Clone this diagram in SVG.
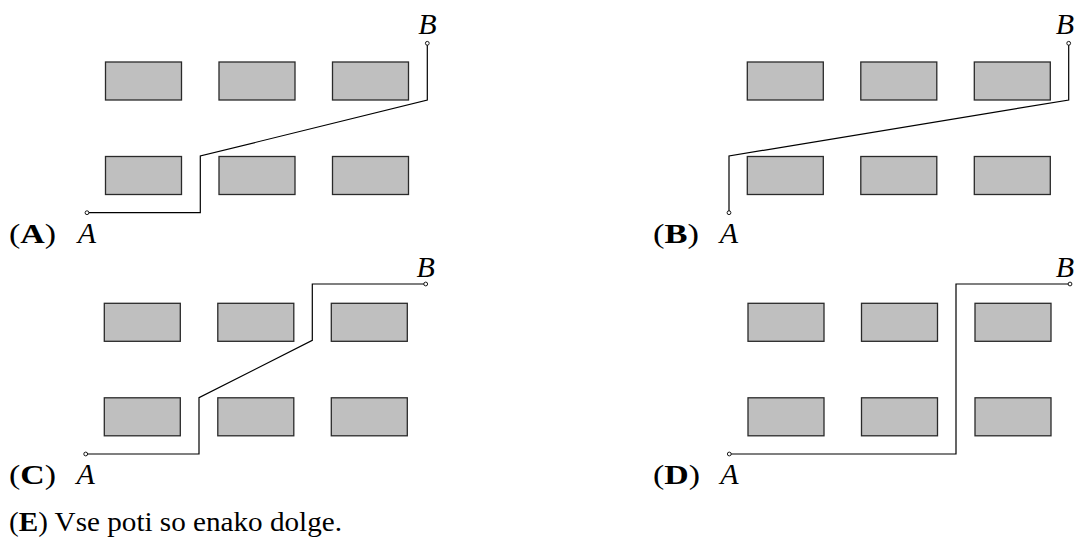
<svg xmlns="http://www.w3.org/2000/svg" width="1077" height="538" viewBox="0 0 1077 538">
  <style>
    .blk { fill: #bfbfbf; stroke: #2a2a2a; stroke-width: 1.3; }
    .route { fill: none; stroke: #000; stroke-width: 1.2; stroke-linejoin: miter; }
    .pin { fill: #fff; stroke: #000; stroke-width: 0.9; }
    .lbl { font-family: "Liberation Serif", "DejaVu Serif", serif; font-size: 28px; fill: #000; }
    .pt { font-style: italic; text-anchor: middle; font-size: 30px; }
    .b { font-weight: bold; }
  </style>
  <defs>
    <g id="blocks">
      <rect class="blk" width="76" height="38" x="0" y="0"/>
      <rect class="blk" width="76" height="38" x="113.5" y="0"/>
      <rect class="blk" width="76" height="38" x="227" y="0"/>
      <rect class="blk" width="76" height="38" x="0" y="94.5"/>
      <rect class="blk" width="76" height="38" x="113.5" y="94.5"/>
      <rect class="blk" width="76" height="38" x="227" y="94.5"/>
    </g>
  </defs>

  <!-- Panel A -->
  <g id="panelA">
    <use href="#blocks" x="105.5" y="62"/>
    <text class="lbl" x="9" y="243.3" textLength="47" lengthAdjust="spacingAndGlyphs">(<tspan class="b">A</tspan>)</text>
    <text class="lbl pt" x="87" y="243.3">A</text>
    <text class="lbl pt" x="427.3" y="34">B</text>
  </g>

  <!-- Panel B -->
  <g id="panelB">
    <use href="#blocks" x="747.3" y="62"/>
    <text class="lbl" x="653" y="243.3" textLength="46" lengthAdjust="spacingAndGlyphs">(<tspan class="b">B</tspan>)</text>
    <text class="lbl pt" x="729" y="243.3">A</text>
    <text class="lbl pt" x="1065" y="34">B</text>
  </g>

  <!-- Panel C -->
  <g id="panelC">
    <use href="#blocks" x="104.3" y="303.3"/>
    <text class="lbl" x="9" y="483.5" textLength="47" lengthAdjust="spacingAndGlyphs">(<tspan class="b">C</tspan>)</text>
    <text class="lbl pt" x="85.7" y="483.5">A</text>
    <text class="lbl pt" x="425.7" y="276.5">B</text>
  </g>

  <!-- Panel D -->
  <g id="panelD">
    <use href="#blocks" x="748" y="303.3"/>
    <text class="lbl" x="653" y="483.5" textLength="47" lengthAdjust="spacingAndGlyphs">(<tspan class="b">D</tspan>)</text>
    <text class="lbl pt" x="729.3" y="483.5">A</text>
    <text class="lbl pt" x="1065" y="276.5">B</text>
  </g>

  <!-- Option E -->
  <g id="optionE">
    <text class="lbl" x="9" y="531" textLength="333" lengthAdjust="spacingAndGlyphs">(<tspan class="b">E</tspan>) Vse poti so enako dolge.</text>
  </g>

  <!-- Routes from A to B -->
  <g id="connectors">
    <path class="route" d="M87,212.7 H200.3 V156 L427.3,100 V43.3"/>
    <path class="route" d="M729,212.7 V156 L1068.7,100 V43.3"/>
    <path class="route" d="M85.7,454 H199 V397.7 L312.3,340.3 V284 H425.7"/>
    <path class="route" d="M729.3,454 H956 V284 H1070"/>
    <circle class="pin" cx="87" cy="212.7" r="1.9"/>
    <circle class="pin" cx="427.3" cy="43.3" r="1.9"/>
    <circle class="pin" cx="729" cy="212.7" r="1.9"/>
    <circle class="pin" cx="1068.7" cy="43.3" r="1.9"/>
    <circle class="pin" cx="85.7" cy="454" r="1.9"/>
    <circle class="pin" cx="425.7" cy="284" r="1.9"/>
    <circle class="pin" cx="729.3" cy="454" r="1.9"/>
    <circle class="pin" cx="1070" cy="284" r="1.9"/>
  </g>
</svg>
